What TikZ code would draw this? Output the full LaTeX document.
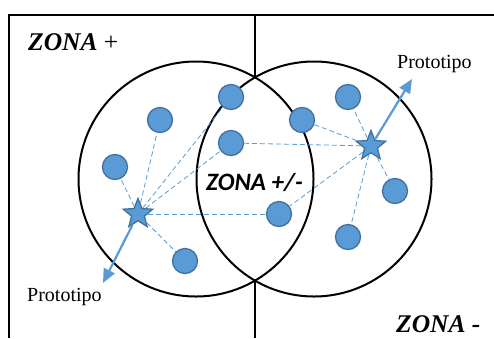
\documentclass[tikz,border=0pt]{standalone}
\usepackage{fontspec}
\setmainfont{Liberation Serif}
\newfontfamily\calibrifont{Carlito}
\usepackage{xcolor}
\usetikzlibrary{positioning, arrows.meta, shapes.geometric}
\definecolor{dotblue}{HTML}{5B9BD5}
\definecolor{dotedge}{HTML}{41719C}

\begin{document}
\begin{tikzpicture}[
        x=1pt, y=-1pt,
        point/.style={circle, draw=dotedge, line width=1.3pt, fill=dotblue, minimum size=25pt, inner sep=0pt},
        proto/.style={star, star points=5, star point ratio=2.3, draw=dotedge, line width=1.3pt, fill=dotblue, minimum size=31pt, inner sep=0pt},
        ring/.style={circle, draw, line width=2pt, minimum size=235pt, inner sep=0pt},
        link/.style={dotblue, dash pattern=on 5pt off 3pt, line width=0.8pt},
        vec/.style={dotblue, line width=2.2pt, -{Triangle[length=14pt, width=12pt]}},
        frame/.style={line width=1.4pt},
        zone/.style={font=\fontsize{25.5}{25.5}\selectfont\bfseries\itshape, anchor=base west, inner sep=0pt},
        tag/.style={font=\fontsize{20}{20}\selectfont, anchor=base west, inner sep=0pt}
    ]
    \useasboundingbox (0,0) rectangle (494,338);

    % Zones
    \node[ring] (left) at (196,179) {};
    \node[ring] (right) at (314,179) {};
    \coordinate (topcut) at (255,77.5);
    \coordinate (botcut) at (255,280.5);

    % Frame
    \coordinate (corner) at (9,15);
    \coordinate (topend) at (494,15);
    \coordinate (leftend) at (9,338);
    \coordinate (midtop) at (255,15);
    \coordinate (midbot) at (255,338);
    \draw[frame] (leftend) -- (corner) -- (topend);
    \draw[frame] (midtop) -- (topcut);
    \draw[frame] (botcut) -- (midbot);

    % Points
    \node[point] (p1) at (160,120) {};
    \node[point] (p2) at (115,167) {};
    \node[point] (p3) at (231,97) {};
    \node[point] (p4) at (231,143) {};
    \node[point] (p5) at (302,120) {};
    \node[point] (p6) at (348,97) {};
    \node[point] (p7) at (395,191) {};
    \node[point] (p8) at (348,237) {};
    \node[point] (p9) at (279,214) {};
    \node[point] (p10) at (185,261) {};

    % Prototypes
    \node[proto] (protoL) at (138,214) {};
    \node[proto] (protoR) at (371,146) {};

    % Links, left prototype
    \draw[link] (protoL) -- (p1);
    \draw[link] (protoL) -- (p2);
    \draw[link] (protoL) -- (p3);
    \draw[link] (protoL) -- (p4);
    \draw[link] (protoL) -- (p9);
    \draw[link] (protoL) -- (p10);

    % Links, right prototype
    \draw[link] (protoR) -- (p4);
    \draw[link] (protoR) -- (p5);
    \draw[link] (protoR) -- (p6);
    \draw[link] (protoR) -- (p7);
    \draw[link] (protoR) -- (p8);
    \draw[link] (protoR) -- (p9);

    % Arrows
    \coordinate (tipL) at (103,283);
    \coordinate (tipR) at (412,79);
    \draw[vec] (protoL) -- (tipL);
    \draw[vec] (protoR) -- (tipR);

    % Labels
    \node[tag] (labR) at (397,68) {Prototipo};
    \node[tag] (labL) at (27,301) {Prototipo};
    \node[zone] (zplus) at (28,50) {ZONA \textup{\mdseries +}};
    \node[zone] (zminus) at (396,332) {ZONA -};
    \node[zone, font=\calibrifont\fontsize{25}{25}\selectfont\bfseries\itshape] (zboth) at (206,190) {ZONA +/-};
\end{tikzpicture}
\end{document}
